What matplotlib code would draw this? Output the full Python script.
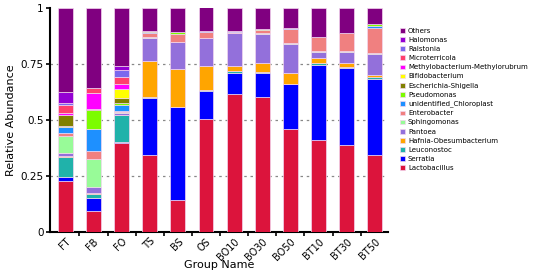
import numpy as np
import matplotlib
matplotlib.use("Agg")
import matplotlib.pyplot as plt

groups = ["FT", "FB", "FO", "TS", "BS", "OS", "BO10", "BO30", "BO50", "BT10", "BT30", "BT50"]

# bottom -> top stacking order
taxa = ["Lactobacillus", "Serratia", "Leuconostoc", "Hafnia-Obesumbacterium", "Pantoea",
        "Sphingomonas", "Enterobacter", "unidentified_Chloroplast", "Pseudomonas",
        "Escherichia-Shigella", "Bifidobacterium", "Methylobacterium-Methylorubrum",
        "Microterricola", "Ralstonia", "Halomonas", "Others"]

colors = ["#DC143C", "#0000FF", "#20B2AA", "#FFA500", "#9370DB",
          "#98FB98", "#F08080", "#1E90FF", "#7CFC00",
          "#808000", "#FFFF00", "#FF00FF",
          "#FF3F6C", "#7B68EE", "#9400D3", "#800080"]

lactobacillus = [0.229, 0.092, 0.396, 0.345, 0.145, 0.504, 0.615, 0.604, 0.459, 0.411, 0.389, 0.345]
serratia      = [0.016, 0.058, 0.007, 0.254, 0.414, 0.124, 0.095, 0.108, 0.200, 0.336, 0.343, 0.339]
leuconostoc   = [0.092, 0.021, 0.118, 0.002, 0.001, 0.004, 0.009, 0.004, 0.004, 0.007, 0.004, 0.006]
hafnia        = [0.004, 0.004, 0.003, 0.163, 0.170, 0.110, 0.024, 0.038, 0.049, 0.024, 0.019, 0.012]
pantoea       = [0.010, 0.025, 0.006, 0.104, 0.118, 0.123, 0.145, 0.130, 0.129, 0.025, 0.047, 0.092]
sphingomonas  = [0.078, 0.127, 0.007, 0.003, 0.002, 0.003, 0.001, 0.004, 0.005, 0.003, 0.005, 0.004]
enterobacter  = [0.015, 0.034, 0.004, 0.019, 0.034, 0.027, 0.006, 0.015, 0.062, 0.064, 0.081, 0.115]
chloroplast   = [0.025, 0.098, 0.027, 0.001, 0.001, 0.001, 0.001, 0.001, 0.001, 0.001, 0.001, 0.008]
pseudomonas   = [0.005, 0.086, 0.006, 0.006, 0.008, 0.002, 0.001, 0.001, 0.001, 0.001, 0.001, 0.006]
escherichia   = [0.047, 0.003, 0.024, 0.000, 0.000, 0.000, 0.000, 0.000, 0.000, 0.000, 0.000, 0.000]
bifido        = [0.003, 0.000, 0.040, 0.000, 0.000, 0.000, 0.000, 0.000, 0.000, 0.000, 0.000, 0.000]
methylo       = [0.007, 0.071, 0.025, 0.000, 0.000, 0.000, 0.000, 0.000, 0.000, 0.000, 0.000, 0.000]
microterricola= [0.037, 0.022, 0.030, 0.000, 0.000, 0.000, 0.000, 0.000, 0.000, 0.000, 0.000, 0.000]
ralstonia     = [0.007, 0.000, 0.031, 0.000, 0.000, 0.000, 0.000, 0.000, 0.000, 0.000, 0.000, 0.000]
halomonas     = [0.052, 0.000, 0.016, 0.000, 0.000, 0.000, 0.000, 0.000, 0.000, 0.000, 0.000, 0.000]
others        = [0.373, 0.359, 0.260, 0.103, 0.107, 0.106, 0.104, 0.095, 0.090, 0.128, 0.110, 0.073]

series = [lactobacillus, serratia, leuconostoc, hafnia, pantoea, sphingomonas, enterobacter,
          chloroplast, pseudomonas, escherichia, bifido, methylo, microterricola,
          ralstonia, halomonas, others]

fig = plt.figure(figsize=(5.36, 2.76), dpi=100)
ax = fig.add_axes([0.093, 0.159, 0.631, 0.812])

x = np.arange(len(groups))
bottom = np.zeros(len(groups))
handles = []
for name, vals, c in zip(taxa, series, colors):
    vals = np.array(vals)
    b = ax.bar(x, vals, width=0.53, bottom=bottom, color=c, edgecolor="#f3d6ef",
               linewidth=0.5, label=name, zorder=3)
    handles.append(b)
    bottom += vals

for yv in [0.25, 0.5, 0.75]:
    ax.axhline(yv, color="#888888", linestyle=(0, (2, 3)), linewidth=0.9, zorder=1)

ax.set_xlim(-0.55, 11.47)
ax.set_ylim(0, 1)
ax.set_yticks([0, 0.25, 0.5, 0.75, 1])
ax.set_yticklabels(["0", "0.25", "0.5", "0.75", "1"], fontsize=7.5)
ax.set_xticks(x)
ax.set_xticklabels(groups, rotation=45, ha="right", rotation_mode="anchor", fontsize=7)
ax.tick_params(axis="x", which="major", length=0, pad=3)
ax.set_xticks(x[:-1] + 0.5, minor=True)
ax.tick_params(axis="x", which="minor", length=3, width=1.2, direction="out")
ax.tick_params(axis="y", length=3, width=1.2, direction="out", pad=1.5)

for s in ["top", "right"]:
    ax.spines[s].set_visible(False)
for s in ["left", "bottom"]:
    ax.spines[s].set_linewidth(1.5)

ax.set_ylabel("Relative Abundance", fontsize=8, labelpad=3)
ax.set_xlabel("Group Name", fontsize=8)
ax.xaxis.set_label_coords(0.5, -0.125)

leg = ax.legend(handles[::-1], taxa[::-1], loc="upper left", bbox_to_anchor=(1.036, 0.91),
                frameon=False, fontsize=5, handlelength=0.7, handleheight=0.7,
                handletextpad=0.4, labelspacing=0.44, borderaxespad=0, borderpad=0)

fig.savefig("out.png", dpi=100)
